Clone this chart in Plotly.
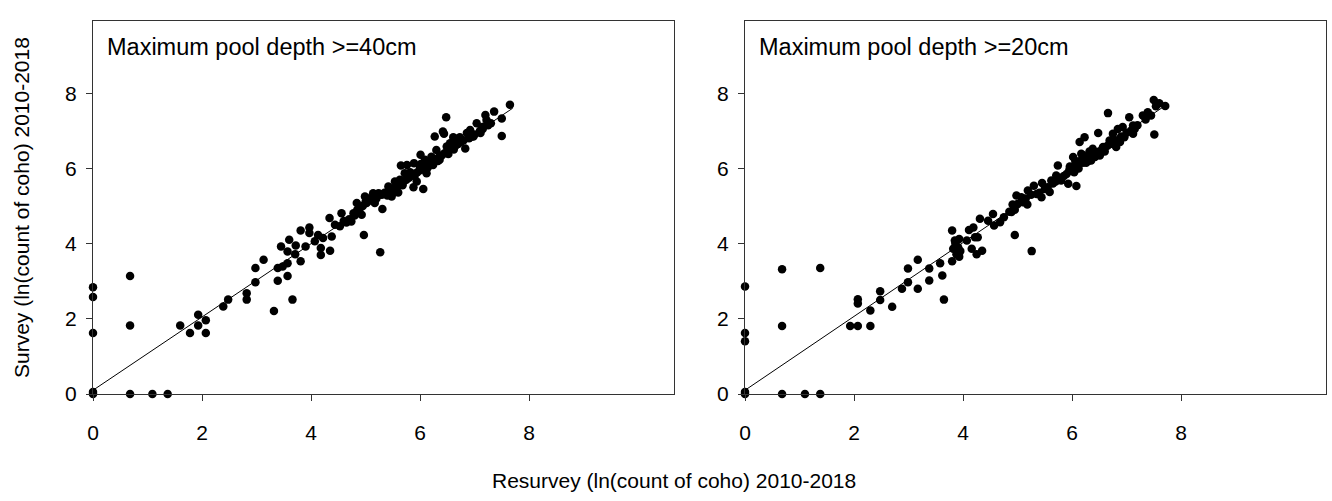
import plotly.graph_objects as go

# ---- data: left panel (Maximum pool depth >= 40cm)
left_x = [0, 0, 0, 0, 0, 0.68, 0.68, 0.68, 1.09, 1.37,
          1.6, 1.78, 1.93, 1.93, 2.07, 2.07, 2.39, 2.48, 2.82, 2.82,
          2.98, 2.98, 3.13, 3.32, 3.39, 3.39, 3.45, 3.48, 3.57, 3.57,
          3.57, 3.6, 3.66, 3.71, 3.72, 3.81, 3.81, 3.9, 3.97, 3.97,
          4.07, 4.13, 4.18, 4.18, 4.22, 4.35, 4.38, 4.34, 4.44, 4.53,
          4.56, 4.65, 4.74, 4.78, 4.84, 4.87, 4.93, 4.97, 4.99, 5.02,
          5.08, 5.14, 5.17, 5.24, 5.27, 5.31, 5.42, 5.48, 5.54, 5.57,
          5.6, 5.63, 5.65, 5.72, 5.76, 5.79, 5.88, 5.89, 5.94, 6.0,
          6.01, 6.06, 6.09, 6.12, 6.18, 6.21, 6.24, 6.27, 6.3, 6.36,
          6.42, 6.44, 6.48, 6.49, 6.55, 6.61, 6.67, 6.73, 6.83, 6.86,
          6.92, 6.98, 7.04, 7.11, 7.16, 7.2, 7.22, 7.36, 7.5, 7.5,
          7.65,
          4.6, 4.7, 4.8, 4.85, 4.9, 4.95, 5.0, 5.05, 5.1, 5.15,
          5.2, 5.25, 5.35, 5.45, 5.5, 5.55, 5.6, 5.65, 5.7, 5.75,
          5.8, 5.85, 5.9, 5.95, 6.0, 6.05, 6.1, 6.15, 6.2, 6.25,
          6.3, 6.35, 6.4, 6.45, 6.5, 6.55, 6.6, 6.65, 6.7, 6.75,
          6.8, 6.9, 7.0, 7.1, 7.15, 7.3,
          5.12, 5.3, 5.4, 5.68, 5.82, 6.02, 6.14, 6.33, 6.52, 6.62,
          6.95, 7.25]
left_y = [2.84, 2.58, 1.62, 0, 0.05, 3.14, 1.82, 0, 0, 0,
          1.82, 1.62, 2.11, 1.82, 1.96, 1.62, 2.33, 2.51, 2.68, 2.51,
          2.97, 3.35, 3.57, 2.21, 3.01, 3.35, 3.92, 3.39, 3.14, 3.48,
          3.79, 4.1, 2.51, 3.72, 3.95, 3.53, 4.35, 3.92, 4.43, 4.28,
          4.06, 4.23, 3.88, 3.7, 4.15, 3.81, 4.19, 4.68, 4.5, 4.46,
          4.81, 4.56, 4.59, 4.81, 5.08, 4.86, 4.77, 4.23, 5.25, 5.08,
          5.16, 5.34, 5.08, 5.34, 3.77, 4.92, 5.52, 5.25, 5.65, 5.38,
          5.36, 5.7, 6.08, 5.87, 6.09, 5.78, 5.5, 6.14, 5.65, 6.05,
          6.36, 5.45, 6.23, 5.87, 6.14, 6.31, 6.09, 6.85, 6.49, 6.23,
          6.98, 6.92, 7.36, 6.58, 6.67, 6.83, 6.76, 6.83, 6.53, 6.94,
          7.02, 6.85, 7.2, 6.94, 7.11, 7.42, 7.29, 7.51, 7.33, 6.86,
          7.69,
          4.6, 4.65, 4.75, 4.9, 4.95, 5.0, 5.1, 5.2, 5.15, 5.25,
          5.2, 5.3, 5.35, 5.4, 5.45, 5.5, 5.55, 5.6, 5.65, 5.7,
          5.75, 5.85, 5.8, 5.9, 5.95, 6.0, 6.05, 6.1, 6.2, 6.15,
          6.25, 6.3, 6.35, 6.4, 6.45, 6.5, 6.55, 6.6, 6.65, 6.7,
          6.75, 6.8, 6.9, 7.0, 7.05, 7.2,
          5.2, 5.3, 5.28, 5.55, 5.9, 6.12, 6.02, 6.2, 6.38, 6.5,
          6.85, 7.15]

# ---- data: right panel (Maximum pool depth >= 20cm)
right_x = [0, 0, 0, 0, 0, 0.68, 0.68, 0.68, 1.1, 1.38,
           1.38, 1.93, 2.07, 2.07, 2.07, 2.3, 2.3, 2.48, 2.48, 2.7,
           2.88, 2.99, 2.99, 3.17, 3.17, 3.38, 3.38, 3.58, 3.62, 3.65,
           3.8, 3.8, 3.82, 3.85, 3.88, 3.91, 3.93, 3.93, 4.07, 4.11,
           4.16, 4.19, 4.22, 4.25, 4.27, 4.31, 4.35, 4.46, 4.55, 4.57,
           4.68, 4.89, 4.91, 4.95, 4.98, 5.07, 5.18, 5.19, 5.26, 5.3,
           5.35, 5.44, 5.45, 5.59, 5.62, 5.71, 5.74, 5.8, 5.93, 5.99,
           6.02, 6.08, 6.11, 6.14, 6.17, 6.23, 6.29, 6.35, 6.38, 6.45,
           6.48, 6.51, 6.57, 6.66, 6.69, 6.75, 6.81, 6.84, 6.93, 6.96,
           7.05, 7.12, 7.12, 7.3, 7.39, 7.45, 7.5, 7.51, 7.54, 7.6,
           7.71,
           4.75, 4.85, 4.95, 5.0, 5.1, 5.15, 5.25, 5.4, 5.5, 5.55,
           5.65, 5.7, 5.78, 5.85, 5.9, 5.95, 6.0, 6.05, 6.1, 6.15,
           6.2, 6.25, 6.3, 6.35, 6.4, 6.45, 6.5, 6.55, 6.6, 6.65,
           6.7, 6.8, 6.9, 7.0, 7.08, 7.2,
           5.96, 6.04, 6.06, 6.12, 6.2, 6.26, 6.32, 6.42, 6.6, 6.88,
           7.15, 7.35, 3.86, 3.95]
right_y = [2.86, 1.62, 1.4, 0, 0.05, 3.32, 1.81, 0, 0, 0,
           3.35, 1.81, 1.81, 2.52, 2.41, 2.22, 1.81, 2.73, 2.5, 2.32,
           2.8, 2.97, 3.34, 2.8, 3.57, 3.02, 3.34, 3.48, 3.15, 2.51,
           4.35, 3.53, 3.86, 4.08, 3.72, 3.9, 3.65, 4.12, 4.08, 4.36,
           3.86, 4.43, 4.17, 3.72, 4.17, 4.66, 3.81, 4.61, 4.79, 4.48,
           4.57, 4.84, 5.04, 4.23, 5.28, 5.23, 5.04, 5.41, 3.8, 5.54,
           5.32, 5.23, 5.61, 5.37, 5.68, 5.81, 6.08, 5.68, 5.59, 5.94,
           6.3, 5.53, 6.12, 6.7, 6.39, 6.83, 6.3, 6.21, 6.52, 6.43,
           6.94, 6.34, 6.57, 7.47, 6.74, 6.92, 6.57, 7.05, 7.1, 6.83,
           7.36, 7.14, 6.92, 7.41, 7.49, 7.41, 7.82, 6.9, 7.65, 7.73,
           7.66,
           4.7, 4.85, 4.9, 5.05, 5.1, 5.2, 5.3, 5.35, 5.45, 5.5,
           5.6, 5.65, 5.75, 5.8, 5.85, 5.95, 6.0, 6.05, 6.1, 6.2,
           6.15, 6.25, 6.2, 6.35, 6.3, 6.4, 6.45, 6.5, 6.55, 6.6,
           6.65, 6.75, 6.85, 6.95, 7.0, 7.15,
           6.05, 5.9, 6.2, 6.0, 6.35, 6.15, 6.45, 6.3, 6.45, 6.7,
           7.05, 7.3, 4.0, 3.8]

# regression line endpoints
fit_x = [0, 7.7]
fit_left_y = [0.1, 7.6]
fit_right_y = [0.1, 7.66]

panel_titles = ["Maximum pool depth >=40cm", "Maximum pool depth >=20cm"]
tick_vals = [0, 2, 4, 6, 8]
tick_text = ["0", "2", "4", "6", "8"]
x_title = "Resurvey (ln(count of coho) 2010-2018"
y_title = "Survey (ln(count of coho) 2010-2018"

FONT = "Liberation Sans, Arial, sans-serif"

fig = go.Figure()
for i, (xs, ys, fy) in enumerate([(left_x, left_y, fit_left_y),
                                   (right_x, right_y, fit_right_y)]):
    ax = "" if i == 0 else "2"
    fig.add_trace(go.Scatter(x=fit_x, y=fy, mode="lines",
                             line=dict(color="black", width=1),
                             xaxis="x" + ax, yaxis="y" + ax,
                             showlegend=False, hoverinfo="skip"))
    fig.add_trace(go.Scatter(x=xs, y=ys, mode="markers",
                             marker=dict(color="black", size=8.5, line=dict(width=0)),
                             cliponaxis=False,
                             xaxis="x" + ax, yaxis="y" + ax,
                             showlegend=False))

axis_common = dict(
    showgrid=False, zeroline=False, showline=True, linecolor="#333333",
    linewidth=1, mirror=True, ticks="outside", ticklen=6, tickwidth=1,
    tickcolor="#333333", tickvals=tick_vals, ticktext=tick_text,
    tickfont=dict(family=FONT, size=21, color="black"),
)

xr = [0, 10.66]
yr = [0, 9.92]
fig.update_layout(
    width=1332, height=501,
    margin=dict(l=93, r=6, t=21, b=107),
    paper_bgcolor="white", plot_bgcolor="white",
    xaxis=dict(domain=[0, 0.4712], range=xr, anchor="y",
               ticklabelstandoff=14, **axis_common),
    yaxis=dict(domain=[0, 1], range=yr, anchor="x",
               ticklabelstandoff=5, **axis_common),
    xaxis2=dict(domain=[0.5288, 1], range=xr, anchor="y2",
                ticklabelstandoff=14, **axis_common),
    yaxis2=dict(domain=[0, 1], range=yr, anchor="x2",
                ticklabelstandoff=5, **axis_common),
    showlegend=False,
)

# panel titles
for i, t in enumerate(panel_titles):
    ax = "x" if i == 0 else "x2"
    ay = "y" if i == 0 else "y2"
    fig.add_annotation(text=t, xref=ax + " domain", yref=ay + " domain",
                       x=0.02, y=0.929, xanchor="left", yanchor="middle",
                       showarrow=False,
                       font=dict(family=FONT, size=23.5, color="black"))

# shared axis titles
fig.add_annotation(text=x_title, xref="paper", yref="paper",
                   x=0.4712, y=-0.233,
                   xanchor="center", yanchor="middle", showarrow=False,
                   font=dict(family=FONT, size=21, color="black"))
fig.add_annotation(text=y_title, xref="paper", yref="paper",
                   x=-0.058, y=0.5, xanchor="center", yanchor="middle",
                   textangle=-90, showarrow=False,
                   font=dict(family=FONT, size=21, color="black"))

fig.write_html("out.html",
               config={"displayModeBar": False},
               post_script="document.body.style.margin='0';document.body.style.overflow='hidden';")
